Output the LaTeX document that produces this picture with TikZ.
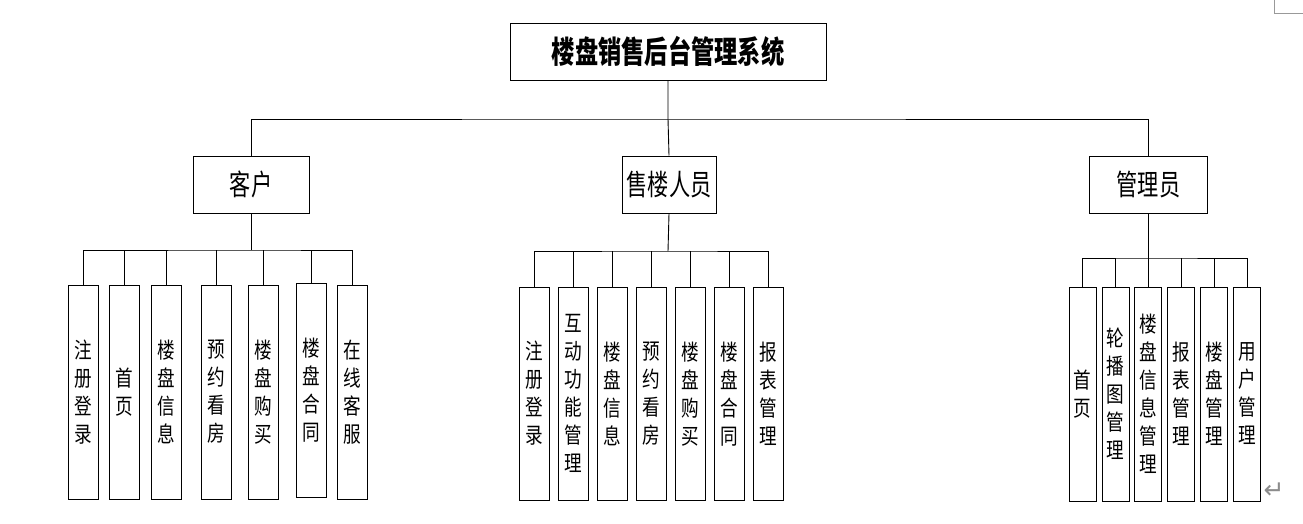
\documentclass[tikz,border=0pt]{standalone}
\usepackage{fontspec}
\usepackage{tikz}
\usetikzlibrary{positioning}
\newfontfamily\rootcjk[FakeStretch=0.75]{Noto Sans CJK SC}
\newfontfamily\rolecjk[FakeStretch=0.73]{Noto Sans CJK SC}
\newfontfamily\leafcjk[FakeStretch=0.8]{Noto Sans CJK SC}
\newfontfamily\symfont{DejaVu Sans}
\tikzset{
root box/.style = { rectangle, draw = black, line width = 1pt, minimum width = 316pt, minimum height = 57pt, font = \rootcjk\bfseries\fontsize{31}{34}\selectfont },
role box/.style = { rectangle, draw = black, line width = 1pt, minimum height = 57pt, inner sep = 0pt, font = \rolecjk\fontsize{29}{32}\selectfont },
leaf box/.style = { rectangle, draw = black, line width = 1pt, minimum width = 30pt, minimum height = 214pt, inner sep = 0pt, align = center, font = \leafcjk\fontsize{22}{28}\selectfont },
narrow leaf/.style = { leaf box, minimum width = 27pt },
link/.style = { draw = black, line width = 0.9pt },
}

\begin{document}
\begin{tikzpicture}[x = 1pt, y = -1pt]
    \useasboundingbox (0, 0) rectangle (1303, 523);
    % top level
    \node[root box] (sys) at (668, 51.5) {楼盘销售后台管理系统};
    \node[role box, minimum width = 116pt] (kh) at (251, 184.5) {客户};
    \node[role box, minimum width = 94pt] (sl) at (669, 184.5) {售楼人员};
    \node[role box, minimum width = 118pt] (gl) at (1148.5, 184.5) {管理员};
    \coordinate (top bus) at (668, 119);
    \path[link] (kh.north) |- (top bus) -| (gl.north);
    \path[link] (sys.south) -- (top bus) -- (sl.north);
    % customer
    \node[leaf box] (kh1) at (83, 392) {注\\册\\登\\录};
    \node[leaf box] (kh2) at (124.5, 392) {首\\页};
    \node[leaf box] (kh3) at (166.5, 392) {楼\\盘\\信\\息};
    \node[leaf box] (kh4) at (216, 392) {预\\约\\看\\房};
    \node[leaf box] (kh5) at (263.5, 392) {楼\\盘\\购\\买};
    \node[leaf box] (kh6) at (311, 390) {楼\\盘\\合\\同};
    \node[leaf box] (kh7) at (352.5, 392.5) {在\\线\\客\\服};
    \coordinate (kh bus) at (251, 250);
    \path[link] (kh.south) -- (kh bus);
    \path[link] (kh1.north) |- (kh bus) -| (kh7.north);
    \path[link] (kh2.north) -- (kh2.north |- kh bus);
    \path[link] (kh3.north) -- (kh3.north |- kh bus);
    \path[link] (kh4.north) -- (kh4.north |- kh bus);
    \path[link] (kh5.north) -- (kh5.north |- kh bus);
    \path[link] (kh6.north) -- (kh6.north |- kh bus);
    % sales staff
    \node[leaf box, minimum height = 213pt] (sl1) at (534, 393.5) {注\\册\\登\\录};
    \node[leaf box, minimum height = 213pt] (sl2) at (573, 393.5) {互\\动\\功\\能\\管\\理};
    \node[leaf box, minimum height = 213pt] (sl3) at (612, 394) {楼\\盘\\信\\息};
    \node[leaf box, minimum height = 213pt] (sl4) at (651, 394) {预\\约\\看\\房};
    \node[leaf box, minimum height = 213pt] (sl5) at (690, 394) {楼\\盘\\购\\买};
    \node[leaf box, minimum height = 213pt] (sl6) at (729, 394) {楼\\盘\\合\\同};
    \node[leaf box, minimum height = 213pt] (sl7) at (768, 394) {报\\表\\管\\理};
    \coordinate (sl bus) at (668, 251);
    \path[link] (sl.south) -- (sl bus);
    \path[link] (sl1.north) |- (sl bus) -| (sl7.north);
    \path[link] (sl2.north) -- (sl2.north |- sl bus);
    \path[link] (sl3.north) -- (sl3.north |- sl bus);
    \path[link] (sl4.north) -- (sl4.north |- sl bus);
    \path[link] (sl5.north) -- (sl5.north |- sl bus);
    \path[link] (sl6.north) -- (sl6.north |- sl bus);
    % administrator
    \node[narrow leaf] (gl1) at (1082.5, 394) {首\\页};
    \node[narrow leaf] (gl2) at (1115.5, 394) {轮\\播\\图\\管\\理};
    \node[narrow leaf] (gl3) at (1148, 394) {楼\\盘\\信\\息\\管\\理};
    \node[narrow leaf] (gl4) at (1181, 394) {报\\表\\管\\理};
    \node[narrow leaf] (gl5) at (1214, 394) {楼\\盘\\管\\理};
    \node[narrow leaf] (gl6) at (1247, 394) {用\\户\\管\\理};
    \coordinate (gl bus) at (1148.5, 258);
    \path[link] (gl.south) -- (gl bus);
    \path[link] (gl1.north) |- (gl bus) -| (gl6.north);
    \path[link] (gl2.north) -- (gl2.north |- gl bus);
    \path[link] (gl3.north) -- (gl3.north |- gl bus);
    \path[link] (gl4.north) -- (gl4.north |- gl bus);
    \path[link] (gl5.north) -- (gl5.north |- gl bus);
    % page marks
    \node[text = black!45, font = \symfont\fontsize{25}{25}\selectfont, inner sep = 0pt] (ret) at (1274, 491) {↵};
    \path[draw = black!40, line width = 0.9pt] (1274, 0) |- (1303, 13);
\end{tikzpicture}
\end{document}
